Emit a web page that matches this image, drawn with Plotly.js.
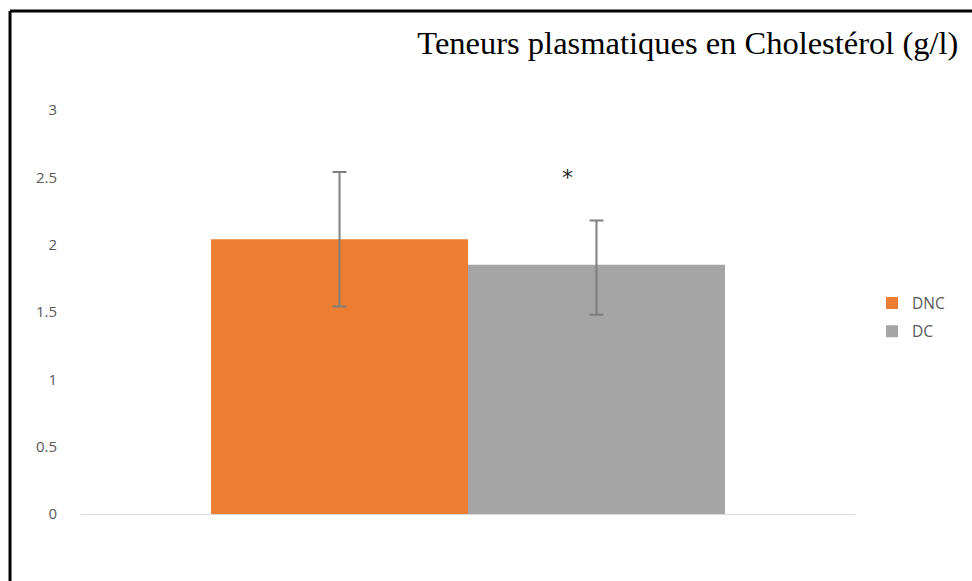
<!DOCTYPE html>
<html>
<head>
<meta charset="utf-8">
<script src="https://cdn.plot.ly/plotly-3.0.1.min.js"></script>
<style>
html,body{margin:0;padding:0;background:#fff;}
#chart{width:972px;height:581px;}
</style>
</head>
<body>
<div id="chart"></div>
<script>
// Data
const categories = ['Cholestérol'];
const seriesNames = ['DNC', 'DC'];
const dncValues = [2.04];
const dncErrPlus = [0.50];
const dncErrMinus = [0.50];
const dcValues = [1.85];
const dcErrPlus = [0.33];
const dcErrMinus = [0.37];
const yTickVals = [0, 0.5, 1, 1.5, 2, 2.5, 3];
const yTickText = ['0', '0.5', '1', '1.5', '2', '2.5', '3'];
const titleText = 'Teneurs plasmatiques en Cholestérol (g/l)';
const signifMark = '*';
const signifPos = [0.129, 2.50];

const errStyle = {color: '#7f7f7f', thickness: 2, width: 7};

const traces = [
  {
    type: 'bar', name: seriesNames[0], x: categories, y: dncValues,
    marker: {color: '#ED7D31'}, legendgroup: 'a',
    error_y: Object.assign({type: 'data', symmetric: false, array: dncErrPlus, arrayminus: dncErrMinus}, errStyle)
  },
  {
    type: 'bar', name: seriesNames[1], x: categories, y: dcValues,
    marker: {color: '#A5A5A5'}, legendgroup: 'b',
    error_y: Object.assign({type: 'data', symmetric: false, array: dcErrPlus, arrayminus: dcErrMinus}, errStyle)
  }
];

const layout = {
  width: 972, height: 581,
  margin: {l: 81, r: 117, t: 110, b: 67},
  paper_bgcolor: '#ffffff', plot_bgcolor: '#ffffff',
  barmode: 'group', bargap: 0.336, bargroupgap: 0,
  showlegend: true,
  legend: {
    x: 1.022, xanchor: 'left', y: 0.563, yanchor: 'top',
    font: {family: 'Open Sans, sans-serif', size: 15.5, color: '#595959'},
    traceorder: 'grouped', tracegroupgap: 5, itemwidth: 30,
    bgcolor: 'rgba(0,0,0,0)'
  },
  title: {
    text: titleText,
    font: {family: 'Liberation Serif, Times New Roman, serif', size: 32.5, color: '#000000'},
    xref: 'container', yref: 'container',
    x: 0.986, xanchor: 'right', y: 0.926, yanchor: 'middle'
  },
  xaxis: {
    type: 'category', showticklabels: false, ticks: '',
    showgrid: false, zeroline: false,
    showline: true, linecolor: '#d9d9d9', linewidth: 1,
    fixedrange: true
  },
  yaxis: {
    range: [0, 3], tickvals: yTickVals, ticktext: yTickText,
    showgrid: false, zeroline: false, showline: false, ticks: '',
    ticklabelstandoff: 23,
    tickfont: {family: 'Open Sans, sans-serif', size: 15, color: '#595959'},
    fixedrange: true
  },
  annotations: [
    {
      text: signifMark, xref: 'x', yref: 'y', x: signifPos[0], y: signifPos[1],
      showarrow: false, font: {family: 'DejaVu Sans, sans-serif', size: 22, color: '#262626'}
    }
  ],
  shapes: [
    {type: 'line', xref: 'paper', yref: 'paper', x0: -0.0917, x1: 1.16, y0: 1.245, y1: 1.245,
     line: {color: '#000000', width: 3}},
    {type: 'line', xref: 'paper', yref: 'paper', x0: -0.0917, x1: -0.0917, y0: 1.245, y1: -0.2,
     line: {color: '#000000', width: 3}}
  ]
};

Plotly.newPlot('chart', traces, layout, {displayModeBar: false, staticPlot: true});
</script>
</body>
</html>
